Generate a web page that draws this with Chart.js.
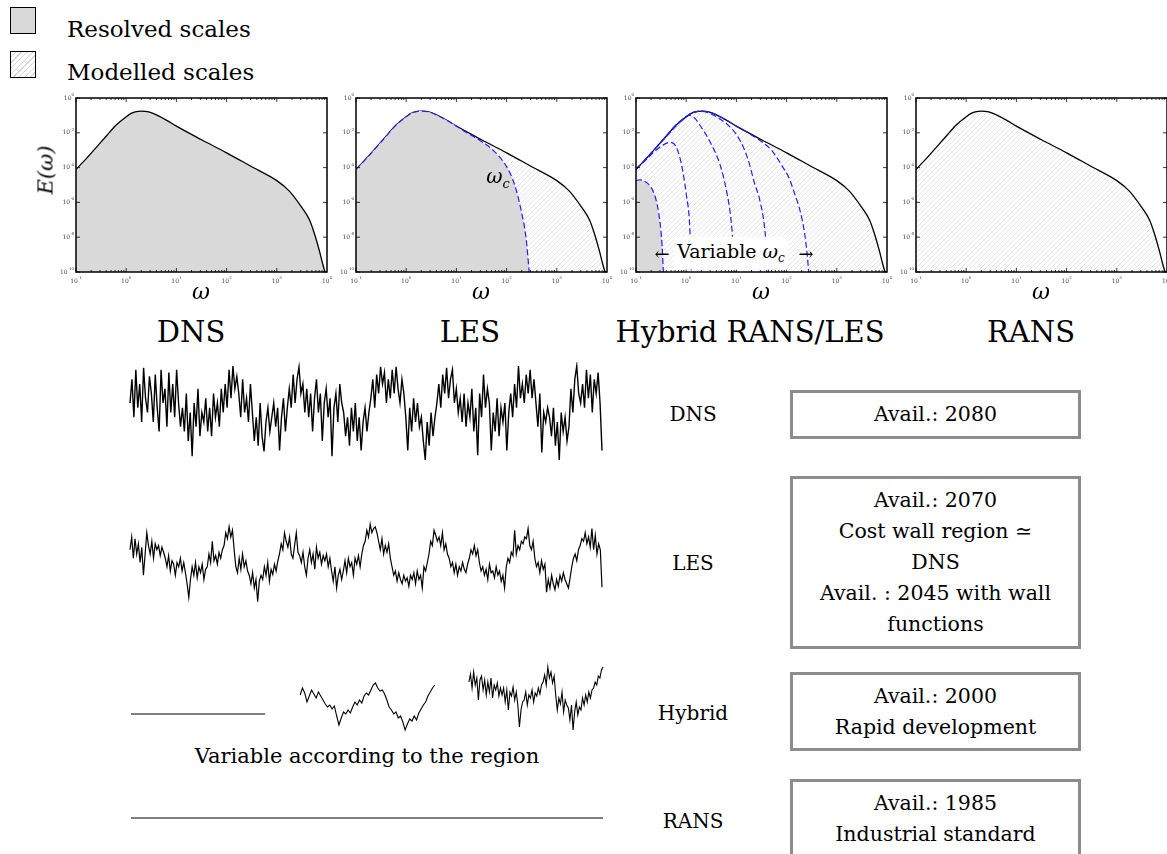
<!DOCTYPE html>
<html>
<head>
<meta charset="utf-8">
<script src="https://cdn.jsdelivr.net/npm/chart.js@4.4.1/dist/chart.umd.min.js"></script>
<style>
  html, body { margin: 0; padding: 0; overflow: hidden; background: #fff; }
  #page { position: relative; width: 1167px; height: 854px; overflow: hidden; font-family: "DejaVu Serif", serif; color: #000; }
  canvas { position: absolute; }
  .t { position: absolute; transform: translate(-50%, -50%); white-space: nowrap; line-height: 1; }
  .l { position: absolute; transform: translateY(-50%); white-space: nowrap; line-height: 1; font-size: 23px; }
  .box { position: absolute; left: 790px; width: 291px; border: 3px solid #8c8c8c; box-sizing: border-box;
         display: flex; flex-direction: column; justify-content: center; align-items: center;
         font-size: 20.5px; line-height: 31px; text-align: center; background: #fff; }
  .sw { position: absolute; left: 10px; width: 26px; height: 27px; border: 1.5px solid #000; box-sizing: border-box; }
  .w { font-style: italic; }
</style>
</head>
<body>
<div id="page">
  <div class="sw" style="top:7px;background:#d9d9d9"></div>
  <div class="sw" style="top:51px;background:repeating-linear-gradient(135deg,#fff 0 3px,#d6d6d6 3px 4px)"></div>
  <div class="l" style="left:67px;top:29px">Resolved scales</div>
  <div class="l" style="left:67px;top:72px">Modelled scales</div>

  <canvas id="spec0" width="280" height="215" style="left:56px;top:88px"></canvas>
  <canvas id="spec1" width="280" height="215" style="left:336px;top:88px"></canvas>
  <canvas id="spec2" width="280" height="215" style="left:616px;top:88px"></canvas>
  <canvas id="spec3" width="280" height="215" style="left:896px;top:88px"></canvas>

  <div class="t w" style="left:46px;top:170px;font-size:21px;transform:translate(-50%,-50%) rotate(-90deg)">E(ω)</div>
  <div class="t w" style="left:201px;top:292px;font-size:22px">ω</div>
  <div class="t w" style="left:481px;top:292px;font-size:22px">ω</div>
  <div class="t w" style="left:761px;top:292px;font-size:22px">ω</div>
  <div class="t w" style="left:1041px;top:292px;font-size:22px">ω</div>
  <div class="t w" style="left:498px;top:178px;font-size:20px">ω<sub style="font-size:13px">c</sub></div>
  <div class="t" style="left:731px;top:253px;font-size:19px;background:#fff;padding:5px 3px">Variable <span class="w">ω</span><sub class="w" style="font-size:12px">c</sub></div>
  <div class="t" style="left:662px;top:254px;font-size:18px">←</div>
  <div class="t" style="left:806px;top:254px;font-size:18px">→</div>

  <div class="t" style="left:191px;top:332px;font-size:29px">DNS</div>
  <div class="t" style="left:470px;top:332px;font-size:29px">LES</div>
  <div class="t" style="left:750px;top:332px;font-size:29px">Hybrid RANS/LES</div>
  <div class="t" style="left:1031px;top:332px;font-size:29px">RANS</div>

  <canvas id="sigDns" width="478" height="101" style="left:128px;top:362px"></canvas>
  <canvas id="sigLes" width="478" height="91" style="left:128px;top:517px"></canvas>
  <canvas id="sigHyb" width="478" height="82" style="left:128px;top:660px"></canvas>
  <canvas id="sigRans" width="478" height="20" style="left:128px;top:808px"></canvas>
  <div class="t" style="left:367px;top:756px;font-size:21px">Variable according to the region</div>

  <div class="t" style="left:693px;top:414px;font-size:20px">DNS</div>
  <div class="t" style="left:693px;top:563px;font-size:20px">LES</div>
  <div class="t" style="left:693px;top:713px;font-size:20px">Hybrid</div>
  <div class="t" style="left:693px;top:821px;font-size:20px">RANS</div>

  <div class="box" style="top:390px;height:49px">Avail.: 2080</div>
  <div class="box" style="top:476px;height:173px">Avail.: 2070<br>Cost wall region ≃<br>DNS<br>Avail. : 2045 with wall<br>functions</div>
  <div class="box" style="top:672px;height:79px">Avail.: 2000<br>Rapid development</div>
  <div class="box" style="top:779px;height:80px">Avail.: 1985<br>Industrial standard</div>
</div>

<script>
// axis decades
const xTickExps = [-1, 0, 1, 2, 3, 4];
const yTickExps = [0, -2, -4, -6, -8, -10];

// energy spectrum E(w), log10 values
const specLogW = [-1, -0.8, -0.6, -0.4, -0.2, 0, 0.1, 0.2, 0.3, 0.45, 0.6, 0.8, 1.0, 1.5, 2.0, 2.5, 3.0, 3.25, 3.5, 3.65, 3.75, 3.85, 3.92, 3.96];
const specLogE = [-4.1, -3.5, -2.85, -2.2, -1.55, -1.08, -0.88, -0.78, -0.75, -0.8, -0.97, -1.27, -1.62, -2.4, -3.15, -3.95, -4.75, -5.35, -6.3, -7.0, -7.8, -8.8, -9.6, -10];

// LES filtered spectrum (cut at w_c)
const lesLogW = [-1, -0.8, -0.6, -0.4, -0.2, 0, 0.1, 0.2, 0.3, 0.45, 0.6, 0.8, 1.0, 1.2, 1.5, 1.75, 2.0, 2.15, 2.3, 2.39, 2.45];
const lesLogE = [-4.1, -3.5, -2.85, -2.2, -1.55, -1.08, -0.88, -0.78, -0.75, -0.8, -0.97, -1.27, -1.62, -1.98, -2.5, -3.05, -3.95, -4.9, -6.6, -8.1, -10];

// hybrid: spectra for several cut-off frequencies
const cut1LogW = [-1, -0.92, -0.82, -0.72, -0.66, -0.58, -0.52, -0.48, -0.455];
const cut1LogE = [-4.75, -4.7, -4.8, -5.05, -5.35, -6.1, -7.2, -8.5, -10];
const cut2LogW = [-1, -0.8, -0.6, -0.45, -0.32, -0.2, -0.12, -0.05, 0, 0.07, 0.1];
const cut2LogE = [-4.1, -3.55, -3.0, -2.68, -2.55, -2.8, -3.5, -4.5, -5.5, -7.4, -10];
const cut3LogW = [-1, -0.8, -0.6, -0.4, -0.2, -0.05, 0.05, 0.15, 0.27, 0.47, 0.67, 0.8, 0.9, 0.97];
const cut3LogE = [-4.1, -3.5, -2.85, -2.22, -1.6, -1.2, -1.0, -1.1, -1.55, -2.5, -3.8, -5.3, -7.2, -10];
const cut4LogW = [-1, -0.8, -0.6, -0.4, -0.2, 0, 0.1, 0.2, 0.3, 0.45, 0.67, 0.85, 1.0, 1.15, 1.26, 1.36, 1.46, 1.56, 1.64];
const cut4LogE = [-4.1, -3.5, -2.85, -2.2, -1.55, -1.08, -0.88, -0.78, -0.77, -0.86, -1.2, -1.6, -2.1, -2.9, -3.8, -4.9, -5.8, -7.4, -10];
const cut5LogW = [-1, -0.8, -0.6, -0.4, -0.2, 0, 0.1, 0.2, 0.3, 0.45, 0.6, 0.8, 1.0, 1.3, 1.5, 1.7, 1.93, 2.05, 2.16, 2.27, 2.36, 2.41, 2.44];
const cut5LogE = [-4.1, -3.5, -2.85, -2.2, -1.55, -1.08, -0.88, -0.78, -0.75, -0.8, -0.97, -1.27, -1.62, -2.12, -2.5, -3.0, -4.0, -4.6, -5.5, -6.5, -7.8, -9, -10];

// velocity signals (0 = bottom of band, 100 = top)
const dnsSignal = [
  60, 85, 45, 95, 55, 80, 40, 97, 65, 50, 88,
  70, 40, 90, 55, 30, 95, 60, 75, 35, 92, 50, 80, 45, 95, 60, 35,
  55, 30, 70, 20, 50, 4, 60, 35, 75, 25, 50,
  40, 65, 30, 55, 25, 70, 45, 60, 35, 75, 50,
  80, 55, 95, 65, 99, 75, 88,
  70, 45, 85, 50, 65, 40, 80,
  50, 20, 45, 15, 60, 25, 9, 40, 55, 30, 45,
  60, 35, 55, 10, 45, 65, 30, 55,
  75, 55, 90, 60, 85, 98, 70,
  80, 50, 75, 45, 70, 30, 65, 85, 50, 70, 20, 60, 75, 45,
  65, 4, 55, 70, 40, 80, 60,
  50, 25, 45, 15, 55, 30, 60, 20, 45, 10, 40, 55, 30, 50,
  65, 85, 55, 90, 70, 98, 80, 92, 60,
  85, 65, 95, 70, 98, 75, 60, 85,
  70, 45, 10, 55, 30, 65, 40, 60, 35,
  45, 20, 0, 40, 15, 50, 25, 45,
  60, 80, 55, 90, 70, 97, 65, 85, 95, 60, 75, 50,
  65, 40, 70, 35, 60, 45, 75, 30, 55,
  5, 70, 45, 90, 55, 75,
  60, 10, 50, 30, 65, 25, 55, 40, 60, 10, 50,
  70, 45, 80, 55, 99, 65,
  80, 60, 90, 70, 95, 65, 85,
  60, 35, 70, 8, 50, 40, 55,
  45, 25, 55, 15, 40, 0, 50, 30, 45, 20, 35,
  75, 50, 85, 99, 70, 60,
  80, 55, 95, 65, 90, 50, 85, 70, 92,
  60, 10
];
const lesSignal = [
  65, 80, 55, 78, 60, 72, 50, 68, 35, 60,
  85, 70, 60, 75, 55, 72, 65, 70, 58, 68, 62,
  55, 45, 58, 40, 52, 48, 35, 50, 45, 55, 40, 50, 38, 25, 9,
  30, 45, 35, 50, 32, 45, 38, 48, 30, 42,
  45, 60, 50, 75, 52, 58, 48, 62, 55, 65,
  70, 85, 78, 92, 80, 88,
  65, 45, 38, 55, 42, 60, 45, 52, 40,
  35, 25, 38, 20, 30, 4, 28, 35,
  30, 45, 35, 50, 28, 42, 36, 48, 40, 52,
  60, 72, 65, 85, 75, 68, 80,
  60, 55, 70, 85, 62, 58,
  50, 62, 45, 35, 55, 65, 50, 60, 42, 68, 55, 62, 48, 58, 52, 60, 45, 55,
  40, 28, 45, 20, 35, 42, 30,
  40, 52, 38, 55, 45, 50, 35, 55, 48, 58, 45, 60,
  70, 75, 88, 80, 95, 85, 90, 92, 85,
  75, 65, 78, 60, 70, 62, 72, 55,
  45, 35, 40, 28, 38, 30, 25, 35, 28, 32, 22, 35, 30, 38, 25, 40, 30, 35,
  20, 45, 40, 50,
  60, 75, 70, 88, 82, 75, 80, 70, 85, 65, 72, 60,
  55, 45, 50, 38, 48, 35, 45, 40, 50, 42, 38, 48,
  55, 65, 60, 70, 58, 65,
  50, 40, 45, 35, 42, 30, 48, 38, 40, 32, 45, 35, 40, 28, 35, 20,
  45, 55, 50, 62, 58, 88, 60, 70,
  65, 75, 72, 80, 78, 90, 70, 65, 75,
  55, 45, 50, 38, 52, 42, 48,
  15, 30, 20, 35, 25, 18, 30, 22, 35, 28, 38, 30, 25, 20, 32,
  45, 55, 60, 52, 65,
  70, 78, 75, 85, 72, 80, 68, 90, 65, 82,
  60, 72, 65, 21
];
// hybrid signal: RANS part, LES part, DNS part (time 0..1)
const hybStarts = [0.002, 0.359, 0.715];
const hybEnds = [0.285, 0.643, 0.998];
const hybRans = [26, 26];
const hybLes = [
  45, 52, 47, 38, 44, 50, 46, 42, 48, 44, 40, 36, 33, 35, 31, 34, 24, 15, 22, 28,
  26, 30, 27, 33, 38, 35, 40, 37, 44, 47, 45, 50, 55, 57, 52, 49, 50, 46, 40, 33,
  30, 26, 28, 22, 24, 18, 10, 16, 21, 19, 24, 20, 27, 31, 35, 38, 44, 48, 52, 55
];
const hybDns = [
  58, 66, 52, 68, 55, 62, 40, 60, 64,
  50, 60, 45, 58, 48, 62, 42, 55, 50, 57, 44, 52,
  45, 52, 38, 50, 30, 48, 44, 53, 40, 48,
  35, 13, 30, 38,
  40, 48, 35, 45, 42, 50, 38, 47, 44, 52, 46, 55,
  58, 65, 55, 73, 62, 68, 57, 64,
  45, 30, 42, 36, 48, 28, 40, 35,
  32, 20, 35, 10, 28, 38, 25, 33,
  30, 42, 35, 45, 38, 48, 42, 50,
  52, 58, 55, 64, 62, 70, 73
];
const ransSignal = [1, 1];

const GREY = '#d9d9d9';
const BLUE = '#1f1fff';

function makeHatch() {
  const c = document.createElement('canvas');
  c.width = 5; c.height = 5;
  const g = c.getContext('2d');
  g.strokeStyle = 'rgba(150,150,150,0.35)';
  g.lineWidth = 0.7;
  g.beginPath();
  g.moveTo(0, 5); g.lineTo(5, 0);
  g.moveTo(-1, 1); g.lineTo(1, -1);
  g.moveTo(4, 6); g.lineTo(6, 4);
  g.stroke();
  return g.createPattern(c, 'repeat');
}
const HATCH = makeHatch();

function pts(ws, es) {
  return ws.map((w, i) => ({ x: 10 ** w, y: 10 ** es[i] }));
}

function curve(ws, es, extra) {
  return Object.assign({
    data: pts(ws, es),
    borderColor: '#000',
    borderWidth: 1.3,
    fill: false,
    pointRadius: 0,
    cubicInterpolationMode: 'monotone'
  }, extra);
}

function cutCurve(ws, es, extra) {
  return curve(ws, es, Object.assign({ borderColor: BLUE, borderWidth: 1.2, borderDash: [6, 3], order: 1 }, extra));
}

function drawPow(ctx, x, y, exp, align) {
  ctx.font = '6px "DejaVu Serif"';
  const wb = ctx.measureText('10').width;
  ctx.font = '4px "DejaVu Serif"';
  const ws = ctx.measureText(String(exp)).width;
  const x0 = align === 'center' ? x - (wb + ws) / 2 : x - wb - ws;
  ctx.textAlign = 'left';
  ctx.textBaseline = 'middle';
  ctx.font = '6px "DejaVu Serif"';
  ctx.fillText('10', x0, y);
  ctx.font = '4px "DejaVu Serif"';
  ctx.fillText(String(exp), x0 + wb, y - 3);
}

// frame with inward ticks and 10^n labels
const spectrumFrame = {
  id: 'spectrumFrame',
  afterDatasetsDraw(chart) {
    const { ctx, chartArea: a, scales: { x, y } } = chart;
    ctx.save();
    ctx.strokeStyle = '#000';
    ctx.lineWidth = 0.8;
    ctx.beginPath();
    for (let d = -1; d < 4; d++) {
      for (let m = 1; m < 10; m++) {
        const px = x.getPixelForValue(m * 10 ** d);
        const len = m === 1 ? 4 : 2;
        ctx.moveTo(px, a.bottom); ctx.lineTo(px, a.bottom - len);
        ctx.moveTo(px, a.top); ctx.lineTo(px, a.top + len);
      }
    }
    yTickExps.forEach(e => {
      const py = y.getPixelForValue(10 ** e);
      ctx.moveTo(a.left, py); ctx.lineTo(a.left + 4, py);
      ctx.moveTo(a.right, py); ctx.lineTo(a.right - 4, py);
    });
    ctx.stroke();
    ctx.lineWidth = 1.5;
    ctx.strokeRect(a.left, a.top, a.right - a.left, a.bottom - a.top);
    ctx.fillStyle = '#444';
    xTickExps.forEach(e => drawPow(ctx, x.getPixelForValue(10 ** e), a.bottom + 9, e, 'center'));
    yTickExps.forEach(e => drawPow(ctx, a.left - 2, y.getPixelForValue(10 ** e), e, 'right'));
    ctx.restore();
  }
};

function specChart(id, datasets) {
  return new Chart(document.getElementById(id), {
    type: 'line',
    data: { datasets },
    options: {
      responsive: false,
      animation: false,
      devicePixelRatio: 1,
      layout: { padding: { left: 20, right: 9, top: 10, bottom: 31 } },
      plugins: { legend: { display: false }, tooltip: { enabled: false } },
      scales: {
        x: { type: 'logarithmic', min: 0.1, max: 1e4, display: false },
        y: { type: 'logarithmic', min: 1e-10, max: 1, display: false }
      }
    },
    plugins: [spectrumFrame]
  });
}

specChart('spec0', [
  curve(specLogW, specLogE, { fill: 'start', backgroundColor: GREY })
]);

specChart('spec1', [
  curve(specLogW, specLogE, { fill: 'start', backgroundColor: HATCH, order: 2 }),
  cutCurve(lesLogW, lesLogE, { fill: 'start', backgroundColor: GREY })
]);

specChart('spec2', [
  curve(specLogW, specLogE, { fill: 'start', backgroundColor: HATCH, order: 3 }),
  cutCurve(cut1LogW, cut1LogE, { fill: 'start', backgroundColor: GREY, order: 2 }),
  cutCurve(cut2LogW, cut2LogE),
  cutCurve(cut3LogW, cut3LogE),
  cutCurve(cut4LogW, cut4LogE),
  cutCurve(cut5LogW, cut5LogE)
]);

specChart('spec3', [
  curve(specLogW, specLogE, { fill: 'start', backgroundColor: HATCH })
]);

function series(values, t0, t1) {
  const n = values.length;
  return values.map((v, i) => ({ x: t0 + (t1 - t0) * i / (n - 1), y: v }));
}

function sigChart(id, sets, yMin, yMax, pad, width) {
  return new Chart(document.getElementById(id), {
    type: 'line',
    data: {
      datasets: sets.map(d => ({
        data: d, borderColor: '#000', borderWidth: width, pointRadius: 0, tension: 0, clip: false
      }))
    },
    options: {
      responsive: false,
      animation: false,
      devicePixelRatio: 1,
      layout: { padding: pad },
      plugins: { legend: { display: false }, tooltip: { enabled: false } },
      scales: {
        x: { type: 'linear', min: 0, max: 1, display: false },
        y: { type: 'linear', min: yMin, max: yMax, display: false }
      }
    }
  });
}

sigChart('sigDns', [series(dnsSignal, 0, 1)], 0, 100, { left: 2, right: 4, top: 3, bottom: 3 }, 1.4);
sigChart('sigLes', [series(lesSignal, 0, 1)], 0, 100, { left: 2, right: 4, top: 3, bottom: 3 }, 1.2);
sigChart('sigHyb', [
  series(hybRans, hybStarts[0], hybEnds[0]),
  series(hybLes, hybStarts[1], hybEnds[1]),
  series(hybDns, hybStarts[2], hybEnds[2])
], 0, 78, { left: 2, right: 2, top: 2, bottom: 2 }, 1.1);
sigChart('sigRans', [series(ransSignal, 0.002, 0.998)], 0, 2, { left: 2, right: 2, top: 0, bottom: 0 }, 1.1);
</script>
</body>
</html>
